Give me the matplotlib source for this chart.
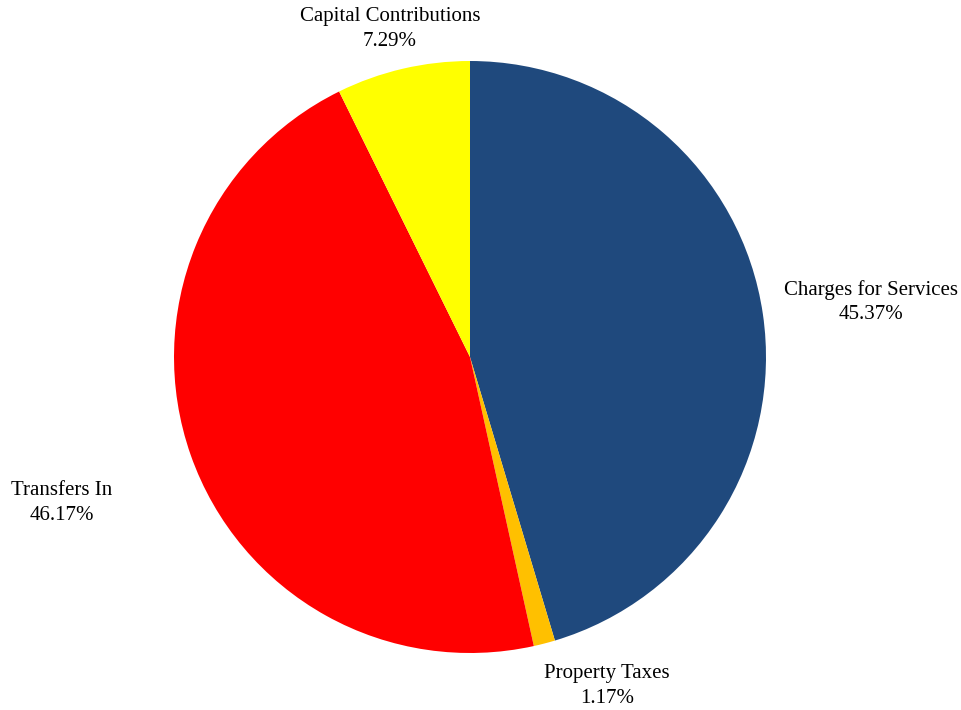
import math
import matplotlib
matplotlib.use("Agg")
import matplotlib.pyplot as plt

labels = ["Charges for Services", "Property Taxes", "Transfers In", "Capital Contributions"]
shares = [45.37, 1.17, 46.17, 7.29]
colors = ["#1F497D", "#FFC000", "#FF0000", "#FFFF00"]
# label placement: distance in pie radii, and angle nudge (deg) from the wedge middle
label_dist = [1.368, 1.204, 1.464, 1.141]
label_nudge = [-0.5, 8.0, 0.35, 0.6]

plt.rcParams['font.family'] = ['Liberation Serif', 'DejaVu Serif']

fig = plt.figure(figsize=(9.62, 7.10), dpi=100)
ax = fig.add_axes([0, 0, 1, 1])

wedges, _ = ax.pie(shares, colors=colors, startangle=90, counterclock=False,
                   radius=1, wedgeprops=dict(linewidth=0))

for w, lab, val, d, n in zip(wedges, labels, shares, label_dist, label_nudge):
    a = math.radians((w.theta1 + w.theta2) / 2 + n)
    ax.text(d * math.cos(a), d * math.sin(a), f"{lab}\n{val:.2f}%",
            ha="center", va="center", fontsize=15, linespacing=1.38)

ax.set_xlim(-470 / 296, (962 - 470) / 296)
ax.set_ylim(-(710 - 357) / 296, 357 / 296)
ax.set_aspect("equal")
ax.axis("off")

fig.savefig("out.png", dpi=100)
